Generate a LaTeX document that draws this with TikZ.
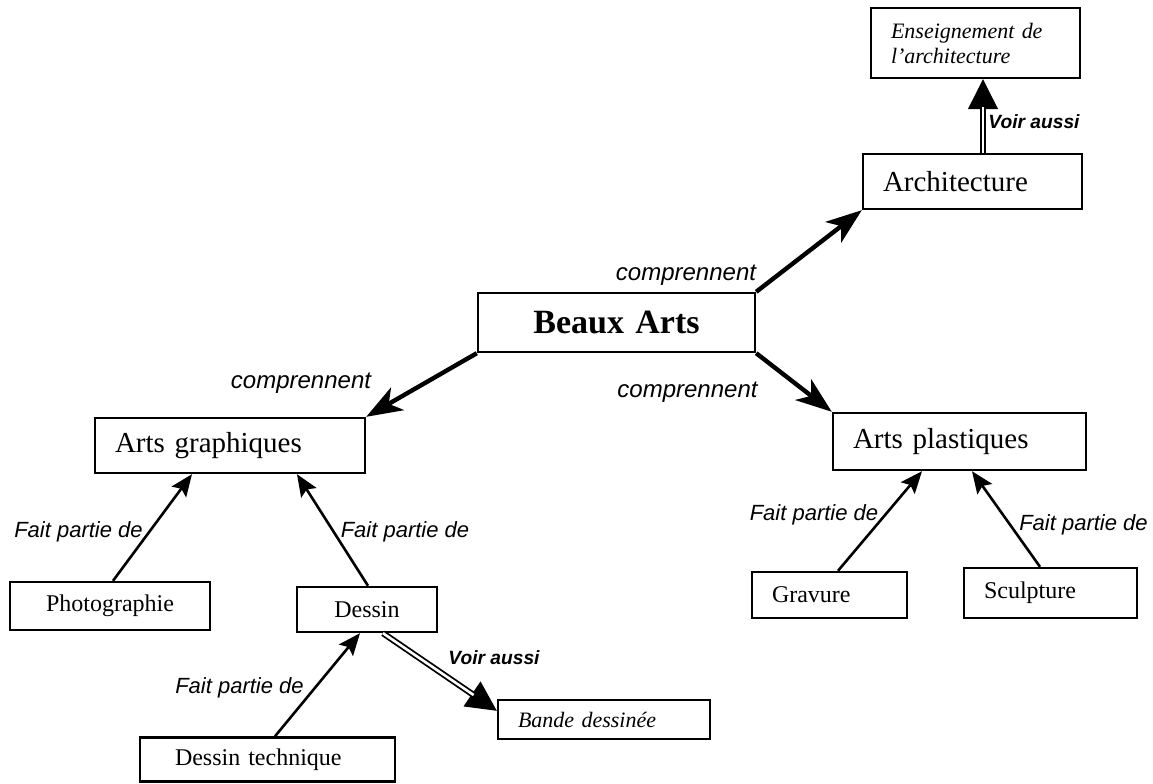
\documentclass[tikz,border=0pt]{standalone}
\usepackage{fontspec}
\setmainfont{Liberation Serif}
\setsansfont{Liberation Sans}
\usetikzlibrary{arrows.meta,calc}

\tikzset{
  box/.style={draw, line width=1.2pt, rectangle, inner xsep=10pt, inner ysep=0pt, align=left,
    font=\fontsize{14.5}{17}\selectfont},
  boxc/.style={box, align=center},
  small/.style={font=\fontsize{12}{14}\selectfont},
  lab/.style={font=\sffamily\itshape\fontsize{11}{13}\selectfont, inner sep=0pt},
  comp/.style={line width=2.2pt, -{Stealth[length=18pt,width=13pt,inset=5pt]}},
  fait/.style={line width=1.3pt, -{Stealth[length=11pt,width=9pt,inset=2pt]}},
  voirtip/.style={line width=0.6pt, -{Triangle[length=15pt,width=15pt]}},
  voir/.style={double, double distance=1.3pt, line width=0.9pt, shorten >=14pt}
}

\begin{document}
\begin{tikzpicture}[x=0.5pt,y=-0.5pt]
    \useasboundingbox (0,0) rectangle (1153,783);

    % boxes
    \node[box, text width=84.5pt, minimum height=35pt, font=\itshape\fontsize{11}{12.5}\selectfont]
        (ens) at (975.5,43) {Enseignement de\\l'architecture};
    \node[box, text width=89.5pt, minimum height=27.5pt] (archi) at (972.5,181.5) {Architecture};
    \node[boxc, text width=118.5pt, minimum height=29.5pt, font=\bfseries\fontsize{17}{20}\selectfont]
        (beaux) at (616.5,322.5) {Beaux Arts};
    \node[box, text width=115pt, minimum height=27.5pt] (graph) at (230,445.5) {Arts graphiques};
    \node[box, text width=106.5pt, minimum height=28.5pt] (plast) at (959.5,441.5) {Arts plastiques};
    \node[boxc, small, text width=80pt, minimum height=24pt] (photo) at (110,606) {Photographie};
    \node[boxc, small, text width=50pt, minimum height=22.5pt] (dessin) at (367,609.5) {Dessin};
    \node[box, small, text width=57.5pt, minimum height=23pt] (grav) at (829.5,595) {Gravure};
    \node[box, small, text width=66.5pt, minimum height=25pt] (sculpt) at (1050.5,593) {Sculpture};
    \node[box, small, inner xsep=17.5pt, text width=92.5pt, minimum height=22pt]
        (tech) at (267.5,759.5) {Dessin technique};
    \node[box, text width=86pt, minimum height=19.5pt, font=\itshape\fontsize{11}{13}\selectfont]
        (bande) at (604,719.5) {Bande dessin\'ee};

    % comprennent
    \draw[comp] (beaux.north east) -- (archi.south west);
    \draw[comp] (beaux.south west) -- (graph.north east);
    \draw[comp] (beaux.south east) -- (plast.north west);
    \node[lab, font=\sffamily\itshape\fontsize{12}{14}\selectfont] (c1) at (686,275) {comprennent};
    \node[lab, font=\sffamily\itshape\fontsize{12}{14}\selectfont] (c2) at (301,383) {comprennent};
    \node[lab, font=\sffamily\itshape\fontsize{12}{14}\selectfont] (c3) at (687.5,392) {comprennent};

    % fait partie de
    \draw[fait] ($(photo.north)+(3,0)$) -- ($(graph.south)+(-38,0)$);
    \draw[fait] ($(dessin.north)+(1,0)$) -- ($(graph.south)+(67,0)$);
    \draw[fait] ($(grav.north)+(8.5,0)$) -- ($(plast.south)+(-37.5,0)$);
    \draw[fait] ($(sculpt.north)+(-10.5,0)$) -- ($(plast.south)+(12.5,0)$);
    \draw[fait] ($(tech.north)+(7.5,0)$) -- ($(dessin.south)+(-7,0)$);
    \node[lab] (f1) at (78.5,532) {Fait partie de};
    \node[lab] (f2) at (405,532) {Fait partie de};
    \node[lab] (f3) at (814,515) {Fait partie de};
    \node[lab] (f4) at (1083.5,525) {Fait partie de};
    \node[lab] (f5) at (239.5,688) {Fait partie de};

    % voir aussi
    \coordinate (v1a) at ($(archi.north)+(10.5,0)$);
    \coordinate (v1b) at ($(ens.south)+(7.5,0)$);
    \coordinate (v2a) at ($(dessin.south)+(16,0)$);
    \coordinate (v2b) at ($(bande.north west)+(0,12)$);
    \draw[voirtip] (v1a) -- (v1b);
    \draw[voir] (v1a) -- (v1b);
    \draw[voirtip] (v2a) -- (v2b);
    \draw[voir] (v2a) -- (v2b);
    \node[lab, font=\sffamily\bfseries\itshape\fontsize{9.6}{11}\selectfont] (va1) at (1034,122) {Voir aussi};
    \node[lab, font=\sffamily\bfseries\itshape\fontsize{9.6}{11}\selectfont] (va2) at (494,658) {Voir aussi};

\end{tikzpicture}
\end{document}
